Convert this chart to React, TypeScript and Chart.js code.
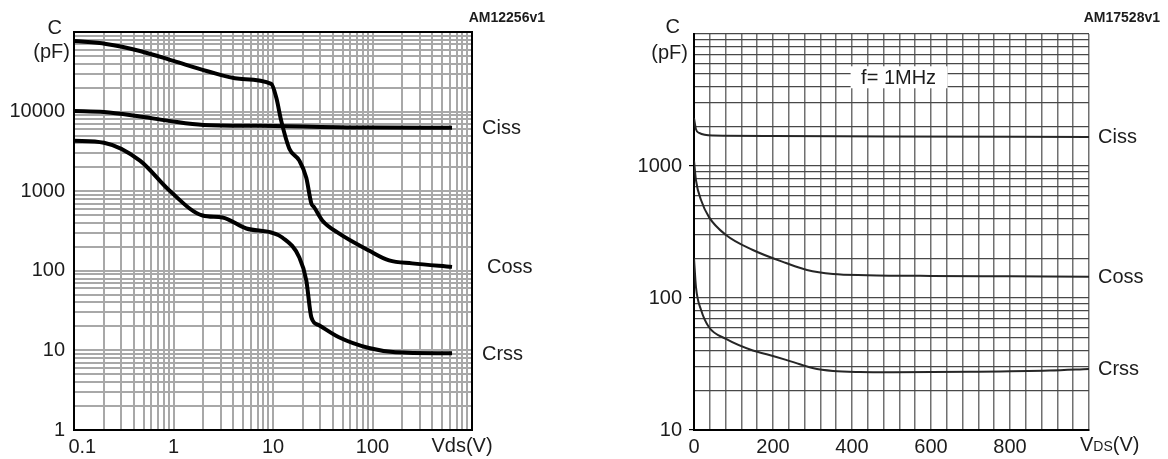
import React, { useEffect, useRef } from 'react';
import { Chart, registerables } from 'chart.js';

Chart.register(...registerables);

// ---------- Left chart (log-log): capacitance vs Vds ----------
const leftCissV = [0.1, 0.2, 0.43, 0.9, 2, 7.3, 100, 630];
const leftCissC = [10200, 9900, 8800, 7650, 6800, 6640, 6300, 6270];
const leftCossV = [0.1, 0.21, 0.46, 1, 2.15, 4.6, 9.6, 10.8, 12.1, 14.6, 18.4, 21.6, 24.3, 26, 31.3, 46, 92, 147, 250, 630];
const leftCossC = [77000, 70800, 57800, 43300, 32400, 25800, 22300, 14900, 7650, 3420, 2420, 1480, 700, 624, 429, 295, 180, 135, 124, 112];
const leftCrssV = [0.1, 0.2, 0.46, 0.91, 1.96, 3.1, 5.4, 9.6, 12.4, 18.4, 21.6, 24.3, 29, 46, 92, 170, 630];
const leftCrssC = [4300, 4060, 2420, 1020, 495, 467, 340, 303, 262, 147, 76, 26, 20.7, 14.6, 10.7, 9.5, 9.2];

const leftXDecades = [0.1, 1, 10, 100];
const leftYDecades = [1, 10, 100, 1000, 10000];
const gridMultipliers = [1, 2, 3, 4, 5, 6, 7, 8, 9];
const leftXLabelValues = [0.1, 1, 10, 100];
const leftXLabelTexts = ['   0.1', '1', '10', '100'];
const leftYLabelValues = [1, 10, 100, 1000, 10000];
const leftYLabelTexts = ['1', '10', '100', '1000', '10000'];
const leftSeriesLabels = ['Ciss', 'Coss', 'Crss'];
const leftLabelDx = [10, 15, 10];

// ---------- Right chart (lin-log): capacitance vs VDS ----------
const rightCissV = [0, 5, 13, 48, 200, 500, 1000];
const rightCissC = [2300, 1900, 1780, 1700, 1690, 1670, 1660];
const rightCossV = [0, 5, 18, 38, 81, 149, 233, 286, 352, 438, 600, 800, 1000];
const rightCossC = [1100, 780, 550, 410, 300, 231, 184, 163, 152, 149, 147, 146, 145];
const rightCrssV = [0, 5, 18, 38, 81, 149, 184, 233, 268, 300, 352, 420, 500, 700, 900, 1000];
const rightCrssC = [200, 121, 81, 60, 49, 40, 37.5, 34, 31.5, 29.5, 28, 27.5, 27.4, 27.6, 28.2, 29];

const rightYDecades = [10, 100, 1000];
const rightXLabelValues = [0, 200, 400, 600, 800];
const rightXLabelTexts = ['0', '200', '400', '600', '800'];
const rightYLabelValues = [10, 100, 1000];
const rightYLabelTexts = ['10', '100', '1000'];
const rightSeriesLabels = ['Ciss', 'Coss', 'Crss'];
const fLabelV = 518;
const fLabelC = 4700;

const FONT = '"Liberation Sans", Arial, Helvetica, sans-serif';
const TEXT = '#1c1c1c';

function logGrid(decades: number[], top: number) {
  const out: number[] = [];
  decades.forEach((d) => gridMultipliers.forEach((m) => out.push(+(d * m).toPrecision(4))));
  out.push(top);
  return out;
}

function labelFor(values: number[], texts: string[], v: number) {
  const i = values.findIndex((x) => Math.abs(x - v) <= 1e-9 * Math.max(1, Math.abs(x)));
  return i >= 0 ? texts[i] : '';
}

function pts(xs: number[], ys: number[]) {
  return xs.map((x, i) => ({ x, y: ys[i] }));
}

const leftDecor = {
  id: 'leftDecor',
  afterDraw(chart: any) {
    const { ctx, chartArea: a, scales } = chart;
    ctx.save();
    ctx.strokeStyle = '#000';
    ctx.lineWidth = 2;
    ctx.strokeRect(a.left, a.top, a.right - a.left, a.bottom - a.top);
    ctx.fillStyle = TEXT;
    ctx.font = `20px ${FONT}`;
    ctx.textAlign = 'right';
    ctx.textBaseline = 'middle';
    ctx.fillText('C', a.left - 12, a.top - 4);
    ctx.fillText('(pF)', a.left - 4, a.top + 20);
    ctx.textAlign = 'left';
    chart.data.datasets.forEach((ds: any, i: number) => {
      const d = chart.getDatasetMeta(i).data;
      const p = d[d.length - 1];
      ctx.fillText(ds.label, a.right + leftLabelDx[i], p.y + 1);
    });
    ctx.textAlign = 'center';
    ctx.textBaseline = 'alphabetic';
    const xv = scales.x.getPixelForValue(scales.x.max);
    ctx.fillText('Vds(V)', xv - 10, a.bottom + 22);
    ctx.font = `bold 14px ${FONT}`;
    ctx.textAlign = 'right';
    ctx.textBaseline = 'middle';
    ctx.fillText('AM12256v1', a.right + 73, 18);
    ctx.restore();
  },
};

const rightDecor = {
  id: 'rightDecor',
  afterDraw(chart: any) {
    const { ctx, chartArea: a, scales } = chart;
    ctx.save();
    const cx = scales.x.getPixelForValue(fLabelV);
    const cy = scales.y.getPixelForValue(fLabelC);
    ctx.fillStyle = '#fff';
    ctx.fillRect(cx - 48, cy - 11, 97, 22);
    ctx.fillStyle = TEXT;
    ctx.font = `20px ${FONT}`;
    ctx.textAlign = 'center';
    ctx.textBaseline = 'middle';
    ctx.fillText('f= 1MHz', cx, cy + 1);
    ctx.textAlign = 'right';
    ctx.fillText('C', a.left - 14, a.top - 7);
    ctx.fillText('(pF)', a.left - 6, a.top + 19);
    ctx.textAlign = 'left';
    chart.data.datasets.forEach((ds: any, i: number) => {
      const d = chart.getDatasetMeta(i).data;
      const p = d[d.length - 1];
      ctx.fillText(ds.label, a.right + 9, p.y + 1);
    });
    const xv = scales.x.getPixelForValue(scales.x.max);
    let x = xv - 9;
    const base = a.bottom + 21;
    ctx.textBaseline = 'alphabetic';
    ctx.font = `20px ${FONT}`;
    ctx.fillText('V', x, base);
    x += ctx.measureText('V').width;
    ctx.font = `14px ${FONT}`;
    ctx.fillText('DS', x, base);
    x += ctx.measureText('DS').width;
    ctx.font = `20px ${FONT}`;
    ctx.fillText('(V)', x, base);
    ctx.font = `bold 14px ${FONT}`;
    ctx.textAlign = 'right';
    ctx.textBaseline = 'middle';
    ctx.fillText('AM17528v1', a.right + 71, 18);
    ctx.restore();
  },
};

function leftConfig(): any {
  const line = { borderColor: '#000', borderWidth: 4, pointRadius: 0, cubicInterpolationMode: 'monotone', fill: false };
  return {
    type: 'line',
    data: {
      datasets: [
        { ...line, label: leftSeriesLabels[0], data: pts(leftCissV, leftCissC) },
        { ...line, label: leftSeriesLabels[1], data: pts(leftCossV, leftCossC) },
        { ...line, label: leftSeriesLabels[2], data: pts(leftCrssV, leftCrssC) },
      ],
    },
    options: {
      animation: false,
      responsive: false,
      maintainAspectRatio: false,
      layout: { padding: { left: 0, top: 32, right: 112, bottom: 0 } },
      plugins: { legend: { display: false }, tooltip: { enabled: false } },
      scales: {
        x: {
          type: 'logarithmic',
          min: 0.1,
          max: 1000,
          afterBuildTicks: (s: any) => {
            s.ticks = logGrid(leftXDecades, 1000).map((v) => ({ value: v }));
          },
          afterFit: (s: any) => {
            s.height = 29;
          },
          border: { display: false },
          grid: { color: '#a8a8a8', lineWidth: 2, drawTicks: false },
          ticks: {
            autoSkip: false,
            maxRotation: 0,
            padding: 5,
            color: TEXT,
            font: { family: FONT, size: 20 },
            callback: (v: number) => labelFor(leftXLabelValues, leftXLabelTexts, v),
          },
        },
        y: {
          type: 'logarithmic',
          min: 1,
          max: 100000,
          afterBuildTicks: (s: any) => {
            s.ticks = logGrid(leftYDecades, 100000).map((v) => ({ value: v }));
          },
          afterFit: (s: any) => {
            s.width = 74;
          },
          border: { display: false },
          grid: { color: '#a8a8a8', lineWidth: 2, drawTicks: false },
          ticks: {
            autoSkip: false,
            padding: 9,
            color: TEXT,
            font: { family: FONT, size: 20 },
            callback: (v: number) => labelFor(leftYLabelValues, leftYLabelTexts, v),
          },
        },
      },
    },
    plugins: [leftDecor],
  };
}

function rightConfig(): any {
  const line = { borderColor: '#262626', borderWidth: 2, pointRadius: 0, cubicInterpolationMode: 'monotone', fill: false };
  return {
    type: 'line',
    data: {
      datasets: [
        { ...line, label: rightSeriesLabels[0], data: pts(rightCissV, rightCissC) },
        { ...line, label: rightSeriesLabels[1], data: pts(rightCossV, rightCossC) },
        { ...line, label: rightSeriesLabels[2], data: pts(rightCrssV, rightCrssC) },
      ],
    },
    options: {
      animation: false,
      responsive: false,
      maintainAspectRatio: false,
      layout: { padding: { left: 0, top: 34, right: 79, bottom: 0 } },
      plugins: { legend: { display: false }, tooltip: { enabled: false } },
      scales: {
        x: {
          type: 'linear',
          min: 0,
          max: 1000,
          afterFit: (s: any) => {
            s.height = 29;
          },
          border: { display: true, color: '#000', width: 2 },
          grid: { color: '#707070', lineWidth: 1.5, drawTicks: false },
          ticks: {
            stepSize: 40,
            autoSkip: false,
            maxRotation: 0,
            padding: 5,
            color: TEXT,
            font: { family: FONT, size: 20 },
            callback: (v: number) => labelFor(rightXLabelValues, rightXLabelTexts, v),
          },
        },
        y: {
          type: 'logarithmic',
          min: 10,
          max: 10000,
          afterBuildTicks: (s: any) => {
            s.ticks = logGrid(rightYDecades, 10000).map((v) => ({ value: v }));
          },
          afterFit: (s: any) => {
            s.width = 110;
          },
          border: { display: true, color: '#000', width: 2 },
          grid: {
            color: '#484848',
            lineWidth: 1.2,
            drawTicks: true,
            tickLength: 5,
            tickColor: (c: any) =>
              c.tick && labelFor(rightYLabelValues, rightYLabelTexts, c.tick.value) ? '#000' : 'rgba(0,0,0,0)',
          },
          ticks: {
            autoSkip: false,
            padding: 7,
            color: TEXT,
            font: { family: FONT, size: 20 },
            callback: (v: number) => labelFor(rightYLabelValues, rightYLabelTexts, v),
          },
        },
      },
    },
    plugins: [rightDecor],
  };
}

export default function App() {
  const leftRef = useRef<HTMLCanvasElement>(null);
  const rightRef = useRef<HTMLCanvasElement>(null);
  useEffect(() => {
    const c1 = new Chart(leftRef.current as HTMLCanvasElement, leftConfig());
    const c2 = new Chart(rightRef.current as HTMLCanvasElement, rightConfig());
    return () => {
      c1.destroy();
      c2.destroy();
    };
  }, []);
  return (
    <div style={{ position: 'fixed', left: 0, top: 0, width: 1168, height: 459, background: '#fff' }}>
      <canvas
        ref={leftRef}
        width={584}
        height={459}
        style={{ position: 'absolute', left: 0, top: 0, width: 584, height: 459 }}
      />
      <canvas
        ref={rightRef}
        width={584}
        height={459}
        style={{ position: 'absolute', left: 584, top: 0, width: 584, height: 459 }}
      />
    </div>
  );
}
